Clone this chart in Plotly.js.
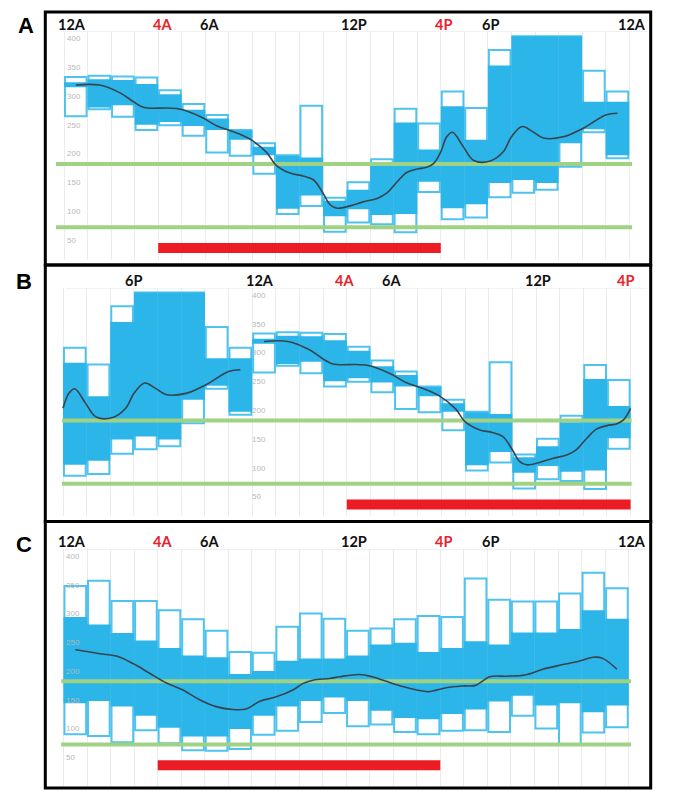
<!DOCTYPE html>
<html>
<head>
<meta charset="utf-8">
<script src="https://cdn.plot.ly/plotly-3.0.1.min.js"></script>
<style>
html,body{margin:0;padding:0;background:#ffffff;}
#chart{width:674px;height:808px;}
</style>
</head>
<body>
<div id="chart"></div>
<script>
// ---------------- DATA ----------------
// hour-of-day slots (box i covers hour i .. i+1)
const hourSlots = [0,1,2,3,4,5,6,7,8,9,10,11,12,13,14,15,16,17,18,19,20,21,22,23];

// Panel A (midnight to midnight) : 10th / 25th / 75th / 90th percentile per hour
const aP90 = [331,333,332,330,308,284,265,239,216,195,281,121,148,188,276,250,306,277,378,402,402,402,342,306];
const aP75 = [322,327,326,319,301,274,259,238,210,194,191,116,135,177,252,205,280,222,351,402,402,402,288,288];
const aP25 = [313,278,282,248,253,246,239,222,195,102,125, 89,101, 91, 93,149,103,110,147,152,147,216,240,195];
const aP10 = [263,275,262,239,247,229,200,194,163, 93,107, 62, 78, 75, 61,131, 84, 87,122,130,135,175,235,190];
const aLineHour = [0.5,1.5,2.4,2.95,3.4,4.4,4.95,5.8,6.5,7.2,7.9,8.6,9.0,9.6,10.15,10.6,11.0,11.3,11.6,12.15,12.7,13.3,13.7,14.15,14.55,15.0,15.4,15.7,16.0,16.25,16.5,16.95,17.4,18.1,18.65,19.0,19.45,19.9,20.35,21.2,22.05,23.0,23.5];
const aLineVal  = [317,317,303,288,278,277,275,262,246,236,223,200,178,164,159,152,129,109,103,107,114,120,129,149,165,171,174,181,201,227,235,210,186,185,201,227,245,236,225,227,242,265,268];

// Panel B (same profile, shown starting at 4P) : slots are hours since 4P
const bSlots = [0,1,2,3,4,5,6,7,8,9,10,11,12,13,14,15,16,17,18,19,20,21,22,23];
const bP90 = [306,277,378,402,402,402,342,306,331,333,332,330,308,284,265,239,216,195,281,121,148,188,276,250];
const bP75 = [280,222,351,402,402,402,288,288,322,327,326,319,301,274,259,238,210,194,191,116,135,177,252,205];
const bP25 = [103,110,147,152,147,216,240,195,313,278,282,248,253,246,239,222,195,102,125, 89,101, 91, 93,149];
const bP10 = [ 84, 87,122,130,135,175,235,190,263,275,262,239,247,229,200,194,163, 93,107, 62, 78, 75, 61,131];
const bLineSlot = [0,0.25,0.5,0.95,1.4,2.1,2.65,3.0,3.45,3.9,4.35,5.2,6.05,7.0,7.5,null,
                   8.5,9.5,10.4,10.95,11.4,12.4,12.95,13.8,14.5,15.2,15.9,16.6,17.0,17.6,18.15,18.6,19.0,19.3,19.6,20.15,20.7,21.3,21.7,22.15,22.55,23.0,23.4,23.7,24.0];
const bLineVal  = [201,227,235,210,186,185,201,227,245,236,225,227,242,265,268,null,
                   317,317,303,288,278,277,275,262,246,236,223,200,178,164,159,152,129,109,103,107,114,120,129,149,165,171,174,181,201];

// Panel C (midnight to midnight)
const cP90 = [346,355,320,320,304,288,268,231,230,275,298,289,268,272,288,294,292,359,322,319,319,333,369,342];
const cP75 = [292,279,264,251,238,225,222,193,198,216,220,220,225,244,247,231,238,250,244,265,265,271,304,289];
const cP25 = [142,146,136,120, 99, 84, 84, 97,120,136,146,152,146,129,116,114,123,131,145,155,138,142,126,138];
const cP10 = [ 88, 85, 74, 95, 72, 60, 59, 62, 87, 94,109,125,102,105, 92, 88, 94, 95, 92,120, 98, 70, 91,100];
const cLineHour = [0.5,1.0,1.55,2.25,2.95,3.66,4.37,5.07,5.78,6.48,7.19,7.76,8.32,9.03,9.74,10.16,10.59,11.3,11.72,12.57,13.1,13.7,14.4,15.0,15.5,16.25,16.96,17.5,18.1,18.8,19.6,20.35,21.06,21.8,22.5,22.9,23.5];
const cLineVal  = [235,232,228,224,211,194,177,165,148,136,131,132,145,153,165,176,182,185,188,192,188,180,171,165,162,169,172,173,188,189,191,201,208,214,222,220,201];

// target range and highlighted period
const targetHigh = 180;
const targetLow = 70;
const focusLevel = 34;
const aFocus = [4, 16];      // 4A -> 4P (hour of day)
const bFocus = [12, 24];     // 4A -> 4P (hours since 4P)
const cFocus = [4, 16];

// labels
const yTickVals = [400,350,300,250,200,150,100,50];
const acTimeLabels = ['12A','4A','6A','12P','4P','6P','12A'];
const bTimeLabels  = ['6P','12A','4A','6A','12P','4P'];
const redLabels = ['4A','4P'];

// ---------------- LAYOUT HELPERS ----------------
const W = 674, H = 808;
const px = p => p / W;
const py = p => 1 - p / H;

const FILL = '#2cb5e8';
const EDGE = '#4fc3f0';
const GREEN = '#a0d283';
const RED = '#ec1c24';
const MED = '#38444e';

const panels = [
  {key:'', letter:'A', hour0Px:64, hourPx:23.55, leftPx:56, rightPx:632, v400Px:37.3, unitPx:0.5754, bottomPx:260,
   frame:[45.3,12,650.7,265], letterPos:[25.5,25], labelY:24.8,
   labelPx:[72,162,209,353.7,443,490,631.7], labels:acTimeLabels, tickPx:64.5,
   slots:hourSlots, p90:aP90, p75:aP75, p25:aP25, p10:aP10, lx:aLineHour, ly:aLineVal, focus:aFocus},
  {key:'2', letter:'B', hour0Px:63, hourPx:23.65, leftPx:61.7, rightPx:631.8, v400Px:293.7, unitPx:0.576, bottomPx:515.5,
   frame:[45.3,265,650.7,521.5], letterPos:[23.5,281], labelY:280.8,
   labelPx:[133.3,259.7,344.5,391.8,537.5,625.5], labels:bTimeLabels, tickPx:249.5,
   slots:bSlots, p90:bP90, p75:bP75, p25:bP25, p10:bP10, lx:bLineSlot, ly:bLineVal, focus:bFocus},
  {key:'3', letter:'C', hour0Px:63.5, hourPx:23.55, leftPx:61.1, rightPx:631.1, v400Px:555, unitPx:0.5743, bottomPx:786,
   frame:[45.3,521.5,650.7,788], letterPos:[23.7,544.7], labelY:541.4,
   labelPx:[72,162,209,353.7,443,490,631.7], labels:acTimeLabels, tickPx:63.5,
   slots:hourSlots, p90:cP90, p75:cP75, p25:cP25, p10:cP10, lx:cLineHour, ly:cLineVal, focus:cFocus}
];

const traces = [];
const layout = {
  width: W, height: H,
  margin: {l:0, r:0, t:0, b:0, pad:0},
  paper_bgcolor: '#ffffff',
  plot_bgcolor: '#ffffff',
  showlegend: false,
  barmode: 'overlay',
  hovermode: false,
  shapes: [],
  annotations: []
};

panels.forEach(p => {
  const xa = 'x' + p.key, ya = 'y' + p.key;
  const xRange = [(p.leftPx - p.hour0Px) / p.hourPx, (p.rightPx - p.hour0Px) / p.hourPx];
  const topVal = 410;
  const topPx = p.v400Px - (topVal - 400) * p.unitPx;
  const botVal = 400 - (p.bottomPx - p.v400Px) / p.unitPx;

  layout['xaxis' + p.key] = {
    domain: [px(p.leftPx), px(p.rightPx)], range: xRange, anchor: ya,
    showgrid: true, gridcolor: '#ececec', gridwidth: 1, tick0: 0, dtick: 1,
    showticklabels: false, ticks: '', zeroline: false, showline: false, fixedrange: true
  };
  layout['yaxis' + p.key] = {
    domain: [py(p.bottomPx), py(topPx)], range: [botVal, topVal], anchor: xa,
    showgrid: false, showticklabels: false, ticks: '', zeroline: false, showline: false, fixedrange: true
  };

  const centers = p.slots.map(s => s + 0.5);
  // outer (10th-90th) outline boxes
  traces.push({
    type: 'bar', x: centers, base: p.p10, y: p.p90.map((v, i) => v - p.p10[i]),
    width: 0.92, xaxis: xa, yaxis: ya,
    marker: {color: '#ffffff', line: {color: EDGE, width: 2}}, hoverinfo: 'skip'
  });
  // inner (25th-75th) filled boxes
  traces.push({
    type: 'bar', x: centers, base: p.p25, y: p.p75.map((v, i) => v - p.p25[i]),
    width: 1.0, xaxis: xa, yaxis: ya,
    marker: {color: FILL, line: {width: 0}}, hoverinfo: 'skip'
  });
  // target lines
  [targetHigh, targetLow].forEach(t => {
    traces.push({
      type: 'scatter', mode: 'lines', x: xRange, y: [t, t], xaxis: xa, yaxis: ya,
      line: {color: GREEN, width: 4}, hoverinfo: 'skip'
    });
  });
  // median
  traces.push({
    type: 'scatter', mode: 'lines', x: p.lx, y: p.ly, xaxis: xa, yaxis: ya, connectgaps: false,
    line: {color: MED, width: 1.6, shape: 'spline', smoothing: 1}, hoverinfo: 'skip'
  });
  // highlighted period bar
  traces.push({
    type: 'scatter', mode: 'lines', x: p.focus, y: [focusLevel, focusLevel], xaxis: xa, yaxis: ya,
    line: {color: RED, width: 10}, hoverinfo: 'skip'
  });

  // top light line of the plot
  layout.shapes.push({
    type: 'line', xref: 'paper', yref: ya, x0: px(p.leftPx + 4), x1: px(647), y0: topVal, y1: topVal,
    line: {color: '#e2e4ee', width: 1}
  });
  // frame
  layout.shapes.push({
    type: 'rect', xref: 'paper', yref: 'paper',
    x0: px(p.frame[0]), x1: px(p.frame[2]), y0: py(p.frame[3]), y1: py(p.frame[1]),
    line: {color: '#000000', width: 3}, fillcolor: 'rgba(0,0,0,0)', layer: 'above'
  });
  // panel letter
  layout.annotations.push({
    text: p.letter, xref: 'paper', yref: 'paper', x: px(p.letterPos[0]), y: py(p.letterPos[1]),
    xanchor: 'center', yanchor: 'middle', showarrow: false,
    font: {family: 'Liberation Sans, Arial, sans-serif', size: 22, color: '#000000', weight: 700}
  });
  // time labels
  p.labels.forEach((t, i) => {
    layout.annotations.push({
      text: t, xref: 'paper', yref: 'paper', x: px(p.labelPx[i]), y: py(p.labelY),
      xanchor: 'center', yanchor: 'middle', showarrow: false,
      font: {family: 'Lato, sans-serif', size: 14.5, weight: 700, color: redLabels.includes(t) ? '#e8222b' : '#111111'}
    });
  });
  // y tick labels
  yTickVals.forEach(v => {
    layout.annotations.push({
      text: String(v), xref: 'paper', yref: ya, x: px(p.tickPx), y: v, yshift: -1.5,
      xanchor: 'left', yanchor: 'middle', showarrow: false,
      font: {family: 'Liberation Sans, Arial, sans-serif', size: 8, color: '#b8b8b8'}
    });
  });
});

Plotly.newPlot('chart', traces, layout, {displayModeBar: false, staticPlot: true});
</script>
</body>
</html>
